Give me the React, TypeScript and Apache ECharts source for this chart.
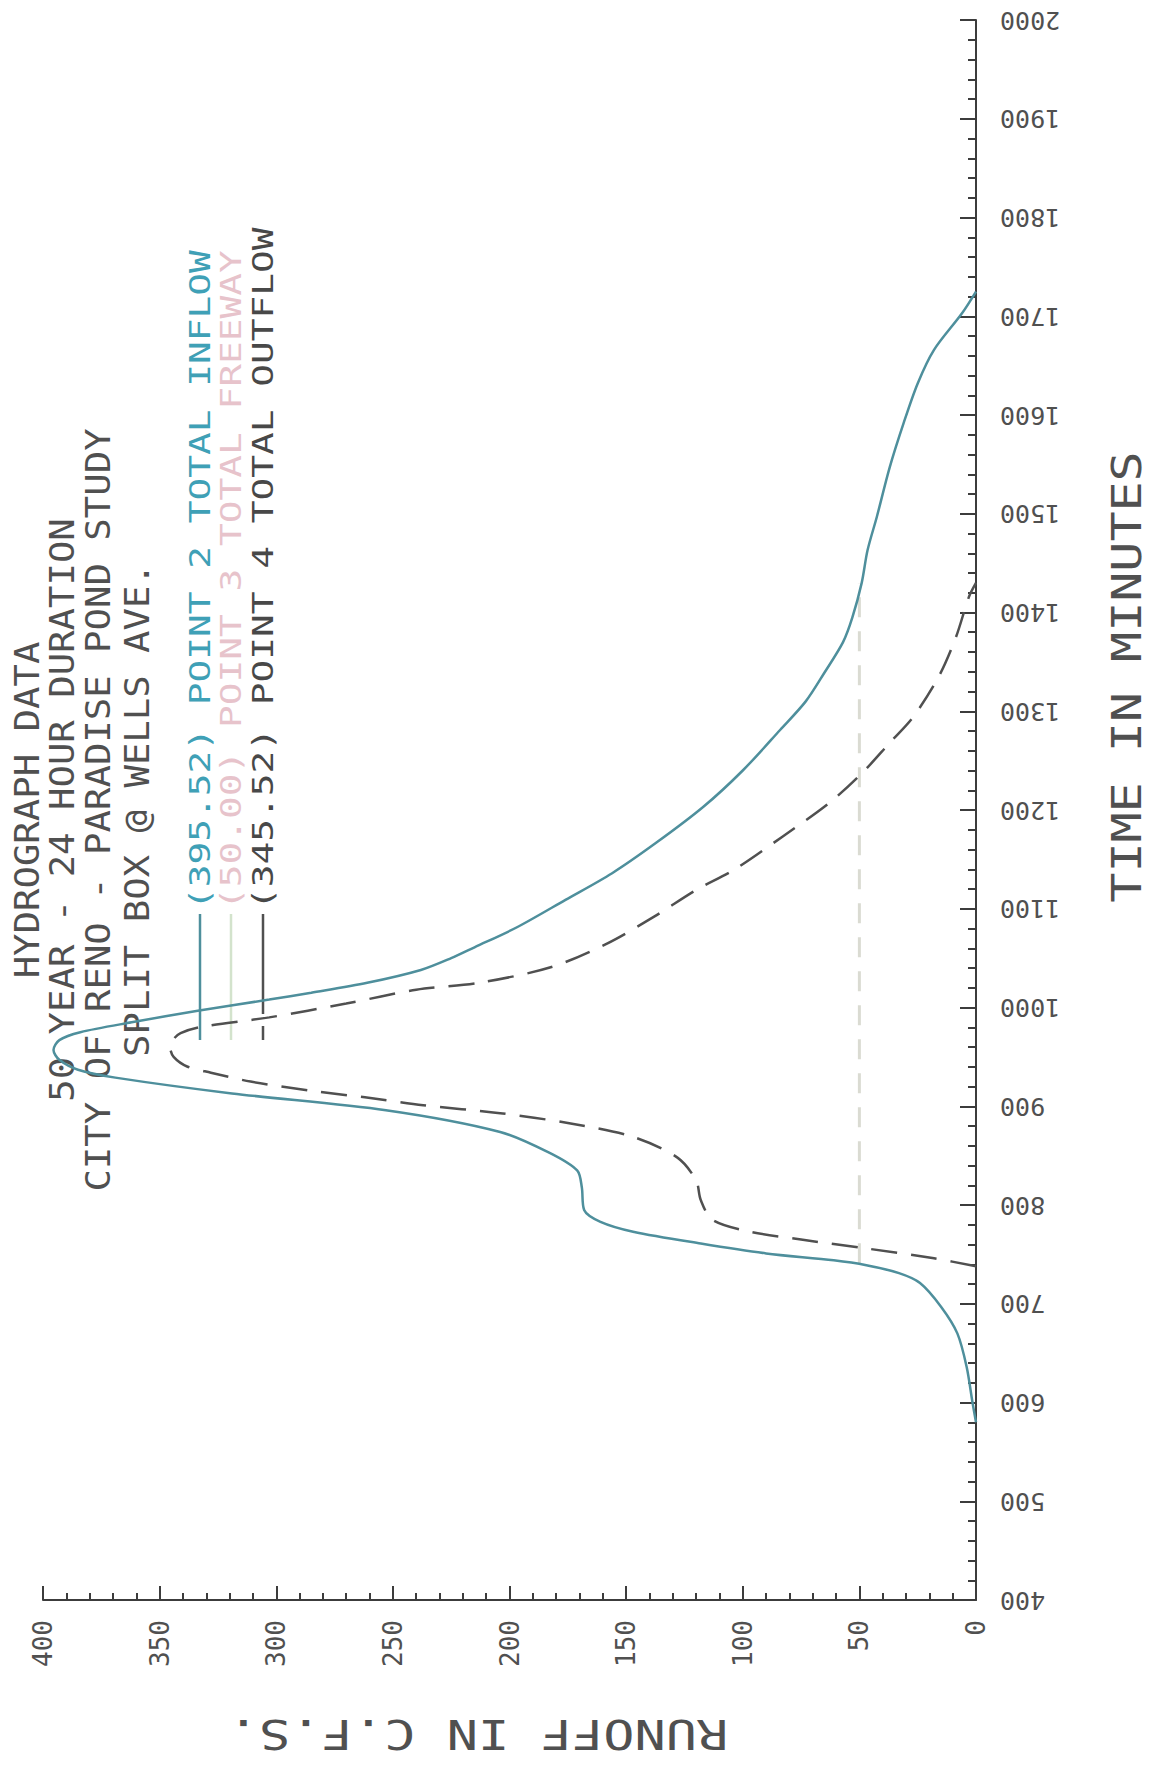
import React, { useEffect, useRef } from "react";
import * as echarts from "echarts";

// ---- data (time in minutes, runoff in c.f.s.) ----
const inflowTime = [580, 600, 636, 670, 697, 721, 731, 739, 744, 751, 761, 773, 783, 795, 818, 835, 853, 874, 896, 913, 929, 937, 947, 957, 967, 975, 985, 997, 1008, 1015, 1025, 1038, 1050, 1061, 1081, 1109, 1136, 1167, 1203, 1240, 1281, 1310, 1339, 1370, 1395, 1430, 1463, 1497, 1547, 1592, 1632, 1666, 1703, 1725];
const inflowCfs = [0, 1.5, 4, 8, 15, 24, 33, 47, 61, 90, 118, 147, 161, 168, 169, 171, 183, 204, 253, 319, 369, 385, 393, 395.5, 393, 384, 362, 333, 303, 285, 261, 238, 225, 215, 197, 176, 156, 137, 117, 100, 84, 73, 65, 57, 53, 49, 46.5, 42.5, 37, 31, 25, 18, 6, 0];

const outflowTime = [738, 746, 756, 765, 773, 785, 805, 825, 848, 869, 883, 893, 901, 909, 916, 925, 934, 940, 950, 960, 968, 974, 980, 990, 1004, 1018, 1025, 1041, 1065, 1092, 1119, 1139, 1173, 1207, 1237, 1268, 1294, 1335, 1375, 1416, 1430];
const outflowCfs = [0, 18, 47, 75, 97, 113, 118, 120, 128, 147, 175, 204, 237, 262, 286, 311, 328, 338, 344, 345.5, 344, 341, 333, 303, 270, 240, 213, 182, 158, 138, 120, 104, 83, 63, 49, 37, 27, 16, 8.6, 3, 0];

const freewayTime = [741, 1430];
const freewayCfs = [50, 50];

const timeRange = [400, 2000];
const timeStep = 100;
const runoffRange = [0, 400];
const runoffStep = 50;

const titleLines = [
  "HYDROGRAPH DATA",
  "50 YEAR - 24 HOUR DURATION",
  "CITY OF RENO - PARADISE POND STUDY",
  "SPLIT BOX @ WELLS AVE.",
];
const legendLabels = [
  "(395.52) POINT 2 TOTAL INFLOW",
  "(50.00) POINT 3 TOTAL FREEWAY",
  "(345.52) POINT 4 TOTAL OUTFLOW",
];
const timeAxisTitle = "TIME IN MINUTES";
const runoffAxisTitle = "RUNOFF IN C.F.S.";

const MONO = '"DejaVu Sans Mono", "Liberation Mono", monospace';
const AXIS = "#3c3c3c";
const TEXT = "#505050";
const TEAL_LINE = "#4e8f9c";
const TEAL_TEXT = "#3fa0b6";
const OUT_LINE = "#505050";
const FREE_LINE = "#dadbd2";
const FREE_TEXT = "#e7c3cb";
const FREE_SAMPLE = "#d3e3cc";

function pairs(cfs: number[], time: number[]) {
  return cfs.map((c, i) => [c, time[i]]);
}

export default function App() {
  const ref = useRef<HTMLDivElement>(null);
  useEffect(() => {
    if (!ref.current) return;
    const chart = echarts.init(ref.current, null, { renderer: "svg" });

    const titleX = [27, 62, 98, 137];
    const legendX = [200, 231, 263];
    const legendColors = [TEAL_TEXT, FREE_TEXT, "#484848"];
    const sampleColors = [TEAL_LINE, FREE_SAMPLE, OUT_LINE];

    const graphic: any[] = [];
    titleLines.forEach((t, i) => {
      graphic.push({
        type: "text",
        x: titleX[i],
        y: 810,
        rotation: Math.PI / 2,
        scaleX: 1.13,
        silent: true,
        style: {
          text: t,
          font: `33px ${MONO}`,
          fill: TEXT,
          align: "center",
          verticalAlign: "middle",
          textAlign: "center",
          textVerticalAlign: "middle",
        },
      });
    });
    legendLabels.forEach((t, i) => {
      graphic.push({
        type: "line",
        silent: true,
        shape: { x1: legendX[i], y1: 914, x2: legendX[i], y2: 1040 },
        style: {
          stroke: sampleColors[i],
          lineWidth: 2.5,
          lineDash: i === 2 ? [100, 12] : null,
        },
      });
      graphic.push({
        type: "text",
        x: legendX[i],
        y: 910,
        rotation: Math.PI / 2,
        scaleX: 1.35,
        silent: true,
        style: {
          text: t,
          font: `28px ${MONO}`,
          fill: legendColors[i],
          align: "left",
          verticalAlign: "middle",
          textAlign: "left",
          textVerticalAlign: "middle",
        },
      });
    });
    graphic.push({
      type: "text",
      x: 1127,
      y: 677,
      rotation: Math.PI / 2,
      scaleX: 1.25,
      silent: true,
      style: {
        text: timeAxisTitle,
        font: `40px ${MONO}`,
        fill: TEXT,
        align: "center",
        verticalAlign: "middle",
        textAlign: "center",
        textVerticalAlign: "middle",
      },
    });
    graphic.push({
      type: "text",
      x: 478,
      y: 1734,
      rotation: Math.PI,
      scaleX: 1.3,
      silent: true,
      style: {
        text: runoffAxisTitle,
        font: `40px ${MONO}`,
        fill: TEXT,
        align: "center",
        verticalAlign: "middle",
        textAlign: "center",
        textVerticalAlign: "middle",
      },
    });

    const option: any = {
      animation: false,
      backgroundColor: "#ffffff",
      grid: { left: 43, right: 177, top: 20, bottom: 168, containLabel: false },
      xAxis: {
        type: "value",
        inverse: true,
        min: runoffRange[0],
        max: runoffRange[1],
        interval: runoffStep,
        position: "bottom",
        axisLine: { show: true, onZero: false, lineStyle: { color: AXIS, width: 2 } },
        axisTick: { show: true, inside: true, length: 14, lineStyle: { color: AXIS, width: 2 } },
        minorTick: { show: true, splitNumber: 5, length: 7, lineStyle: { color: AXIS, width: 2 } },
        splitLine: { show: false },
        axisLabel: {
          rotate: 90,
          margin: 20,
          fontFamily: MONO,
          fontSize: 26,
          color: TEXT,
          formatter: (v: number) => String(v),
        },
      },
      yAxis: {
        type: "value",
        min: timeRange[0],
        max: timeRange[1],
        interval: timeStep,
        position: "right",
        axisLine: { show: true, onZero: false, lineStyle: { color: AXIS, width: 2 } },
        axisTick: { show: true, inside: true, length: 16, lineStyle: { color: AXIS, width: 2 } },
        minorTick: { show: true, splitNumber: 5, length: 8, lineStyle: { color: AXIS, width: 2 } },
        splitLine: { show: false },
        axisLabel: {
          rotate: 180,
          margin: 24,
          fontFamily: MONO,
          fontSize: 25,
          color: TEXT,
          formatter: (v: number) => String(v),
        },
      },
      series: [
        {
          name: "FREEWAY",
          type: "line",
          data: pairs(freewayCfs, freewayTime),
          showSymbol: false,
          symbol: "none",
          lineStyle: { color: FREE_LINE, width: 3, type: [20, 14] },
          z: 1,
        },
        {
          name: "OUTFLOW",
          type: "line",
          data: pairs(outflowCfs, outflowTime),
          showSymbol: false,
          symbol: "none",
          smooth: 0.3,
          lineStyle: { color: OUT_LINE, width: 2.5, type: [26, 14] },
          z: 2,
        },
        {
          name: "INFLOW",
          type: "line",
          data: pairs(inflowCfs, inflowTime),
          showSymbol: false,
          symbol: "none",
          smooth: 0.3,
          lineStyle: { color: TEAL_LINE, width: 2.5 },
          z: 3,
        },
      ],
      graphic,
    };
    chart.setOption(option);
    return () => chart.dispose();
  }, []);

  return (
    <div
      ref={ref}
      style={{ position: "absolute", left: 0, top: 0, width: 1153, height: 1768, background: "#fff" }}
    />
  );
}
